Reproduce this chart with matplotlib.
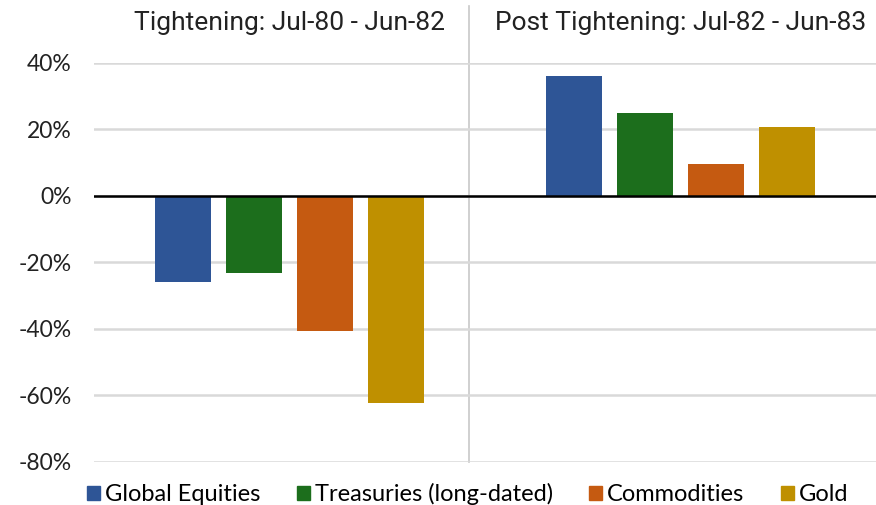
import numpy as np
import matplotlib.pyplot as plt
from matplotlib.patches import Patch

# Periods and assets
periods = ["Tightening: Jul-80 - Jun-82", "Post Tightening: Jul-82 - Jun-83"]
assets = ["Global Equities", "Treasuries (long-dated)", "Commodities", "Gold"]
colors = ["#2E5596", "#1C6E1C", "#C55A11", "#BF9000"]

# Returns (%) per asset, one value per period
global_equities = [-25.8, 35.9]
treasuries = [-23.3, 24.9]
commodities = [-40.8, 9.4]
gold = [-62.3, 20.7]
values = [global_equities, treasuries, commodities, gold]

yticks = [-80, -60, -40, -20, 0, 20, 40]

plt.rcParams['font.family'] = ['Lato', 'DejaVu Sans']

fig = plt.figure(figsize=(8.76, 5.05), dpi=100)
ax = fig.add_axes([94 / 876, 43 / 505, 782 / 876, 399.5 / 505])

x = np.arange(len(periods))
step = 0.1816
width = 0.143
for i, (name, vals) in enumerate(zip(assets, values)):
    ax.bar(x + (i - 1.5) * step, vals, width, color=colors[i], label=name, zorder=3)

ax.set_xlim(-0.5, 1.5)
ax.set_ylim(-80, 40)
ax.set_yticks(yticks)
ax.set_yticklabels([f"{v}%" for v in yticks], fontsize=16.5, color="#222222")
ax.set_xticks([])
ax.tick_params(axis='y', length=0, pad=16)
ax.grid(axis='y', color="#D9D9D9", linewidth=1.8, zorder=0)
for s in ax.spines.values():
    s.set_visible(False)
ax.axhline(0, color="black", linewidth=1.8, zorder=4)

# separator between the two periods
ax.plot([0.46, 0.46], [-80, 57], color="#C8C8C8", linewidth=1.2, clip_on=False, zorder=1)

for xi, p in zip(x, periods):
    ax.text(xi, 52, p, ha='center', va='center', fontsize=19, color="#222222",
            family=['Roboto', 'DejaVu Sans'])

handles = [Patch(color=c) for c in colors]
fig.legend(handles, assets, loc='center', bbox_to_anchor=(0.534, 11 / 505), ncol=4,
           frameon=False, fontsize=17, handlelength=0.55, handleheight=0.55,
           handletextpad=0.2, columnspacing=1.55, borderaxespad=0)

fig.savefig("out.png", dpi=100)
